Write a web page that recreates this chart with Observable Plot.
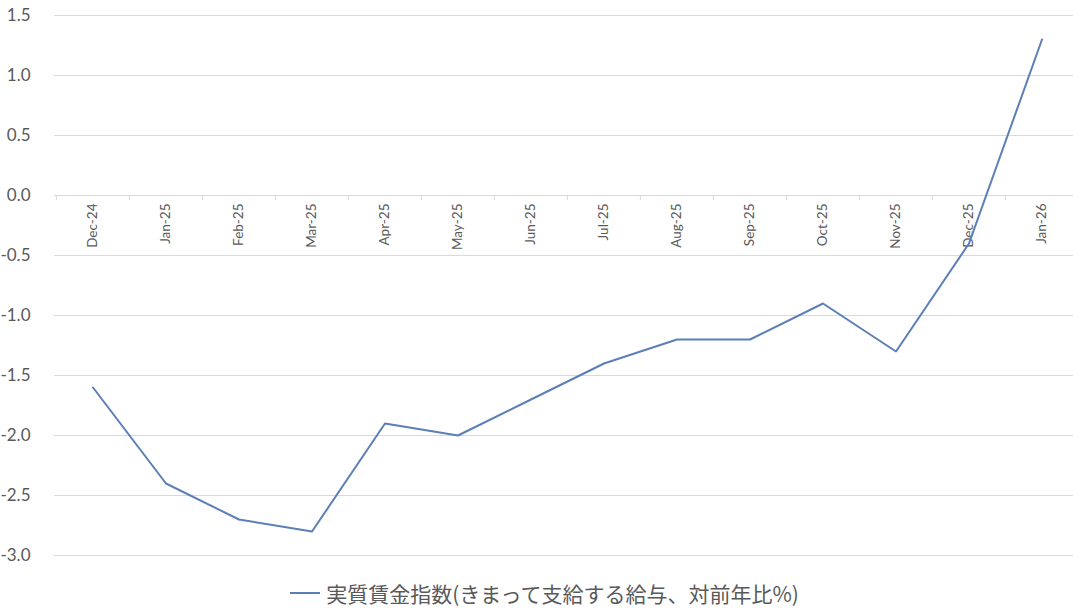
<!DOCTYPE html>
<html>
<head>
<meta charset="utf-8">
<script src="https://cdn.jsdelivr.net/npm/d3@7"></script>
<script src="https://cdn.jsdelivr.net/npm/@observablehq/plot@0.6"></script>
<style>
  html, body { margin: 0; padding: 0; background: #fff; }
  #chart svg { display: block; }
  .legend {
    height: 42px; display: flex; align-items: center; justify-content: center;
    font-family: "Noto Sans CJK JP", sans-serif; font-size: 21px; color: #595959;
    padding-left: 16px;
  }
  .legend .swatch { width: 30px; height: 0; border-top: 2px solid #5b7fb6; margin-right: 6px; }
</style>
</head>
<body>
<div id="chart"></div>
<div class="legend"><span class="swatch"></span><span id="series-name"></span></div>
<script>
// Real wage index (scheduled earnings), year-on-year % change
const months = ["Dec-24","Jan-25","Feb-25","Mar-25","Apr-25","May-25","Jun-25",
                "Jul-25","Aug-25","Sep-25","Oct-25","Nov-25","Dec-25","Jan-26"];
const realWage = [-1.6, -2.4, -2.7, -2.8, -1.9, -2.0, -1.7,
                  -1.4, -1.2, -1.2, -0.9, -1.3, -0.4, 1.3];
const yTicks = [1.5, 1.0, 0.5, 0.0, -0.5, -1.0, -1.5, -2.0, -2.5, -3.0];
const seriesName = "実質賃金指数(きまって支給する給与、対前年比%)";

document.getElementById("series-name").textContent = seriesName;

const rows = months.map((m, i) => ({month: m, value: realWage[i]}));
const xRange = [54, 1080];
const bandwidth = (xRange[1] - xRange[0]) / months.length;
const grey = "#595959";
const gridColor = "#d9d9d9";

const chart = Plot.plot({
  width: 1073,
  height: 572,
  marginLeft: 54,
  marginRight: 0,
  marginTop: 15,
  marginBottom: 17,
  style: {fontFamily: "Lato, 'Noto Sans', sans-serif", color: grey, background: "#fff"},
  x: {type: "band", domain: months, range: xRange, padding: 0, axis: null, label: null},
  y: {domain: [-3, 1.5], range: [555, 15], axis: null, label: null},
  marks: [
    Plot.ruleY(yTicks, {stroke: gridColor, strokeWidth: 1}),
    // small category boundary ticks hanging below the zero line
    Plot.ruleX(months, {x: d => d, y1: 0, y2: 0, insetBottom: -5, dx: -bandwidth / 2, stroke: gridColor}),
    Plot.axisY(yTicks, {
      anchor: "left", tickSize: 0, tickPadding: 24, fontSize: 17, fill: grey,
      tickFormat: d => d.toFixed(1), label: null
    }),
    Plot.text(months, {
      x: d => d, y: 0, text: d => d, rotate: -90, textAnchor: "end",
      lineAnchor: "middle", dy: 8, fontSize: 13.5, fill: grey
    }),
    Plot.line(rows, {x: "month", y: "value", stroke: "#5b7fb6", strokeWidth: 2})
  ]
});
document.getElementById("chart").append(chart);
</script>
</body>
</html>
